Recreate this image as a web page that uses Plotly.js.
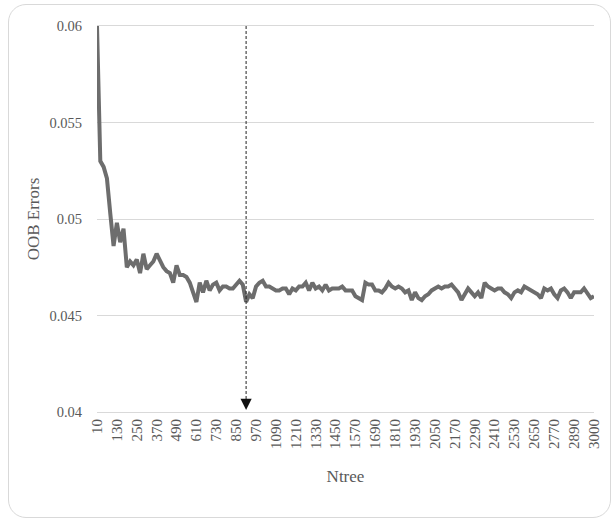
<!DOCTYPE html>
<html>
<head>
<meta charset="utf-8">
<script src="https://cdn.plot.ly/plotly-3.0.1.min.js"></script>
<style>
  html, body { margin: 0; padding: 0; background: #ffffff; }
  #wrap { position: relative; width: 611px; height: 520px; }
  #chart { position: absolute; left: 0; top: 0; width: 611px; height: 520px; }
  #frame { position: absolute; left: 8px; top: 4px; width: 603px; height: 514px; box-sizing: border-box;
           border: 1.5px solid #d9d9d9; border-radius: 18px; pointer-events: none; }
</style>
</head>
<body>
<div id="wrap">
  <div id="chart"></div>
  <div id="frame"></div>
</div>
<script>
// Number of trees (every 20 trees, 10 ... 2990, then 3000)
const ntree = [];
for (let i = 0; i < 150; i++) ntree.push(String(10 + 20 * i));
ntree.push("3000");

// OOB error values
const oobErrors = [
  0.0600, 0.0530, 0.0527, 0.0521, 0.0503, 0.0486, 0.0498, 0.0488, 0.0495, 0.0475,
  0.0478, 0.0476, 0.0479, 0.0472, 0.0482, 0.0474, 0.0476, 0.0478, 0.0482, 0.0478,
  0.0475, 0.0473, 0.0472, 0.0467, 0.0476, 0.0471, 0.0471, 0.0470, 0.0467, 0.0462,
  0.0457, 0.0467, 0.0462, 0.0468, 0.0463, 0.0466, 0.0467, 0.0463, 0.0465, 0.0465,
  0.0464, 0.0464, 0.0466, 0.0468, 0.0466, 0.0457, 0.0461, 0.0459, 0.0465, 0.0467,
  0.0468, 0.0465, 0.0465, 0.0464, 0.0463, 0.0463, 0.0464, 0.0464, 0.0461, 0.0464,
  0.0463, 0.0465, 0.0465, 0.0467, 0.0463, 0.0467, 0.0464, 0.0465, 0.0463, 0.0466,
  0.0463, 0.0464, 0.0464, 0.0464, 0.0465, 0.0463, 0.0463, 0.0463, 0.0460, 0.0459,
  0.0458, 0.0467, 0.0466, 0.0466, 0.0463, 0.0463, 0.0462, 0.0464, 0.0467, 0.0465,
  0.0464, 0.0465, 0.0464, 0.0462, 0.0463, 0.0458, 0.0462, 0.0459, 0.0458, 0.0460,
  0.0461, 0.0463, 0.0464, 0.0465, 0.0464, 0.0465, 0.0465, 0.0466, 0.0464, 0.0462,
  0.0458, 0.0461, 0.0464, 0.0462, 0.0460, 0.0462, 0.0459, 0.0467, 0.0465, 0.0464,
  0.0463, 0.0464, 0.0464, 0.0462, 0.0461, 0.0459, 0.0462, 0.0463, 0.0462, 0.0465,
  0.0464, 0.0463, 0.0462, 0.0461, 0.0459, 0.0464, 0.0463, 0.0464, 0.0461, 0.0459,
  0.0463, 0.0464, 0.0462, 0.0459, 0.0462, 0.0462, 0.0462, 0.0464, 0.0461, 0.0459,
  0.0460
];

// Tick labels every 6th category plus the last one
const tickLabels = ["10","130","250","370","490","610","730","850","970","1090","1210","1330","1450",
  "1570","1690","1810","1930","2050","2170","2290","2410","2530","2650","2770","2890","3000"];

const yTicks = [0.04, 0.045, 0.05, 0.055, 0.06];
const yTickText = ["0.04", "0.045", "0.05", "0.055", "0.06"];

// Selected number of trees (marked by dashed arrow)
const selectedNtree = "910";

const selIdx = ntree.indexOf(selectedNtree);
const font = "Liberation Serif";

const trace = {
  x: ntree,
  y: oobErrors,
  type: "scatter",
  mode: "lines",
  line: { color: "#6d6d6d", width: 4 },
  hoverinfo: "x+y"
};

const layout = {
  width: 611,
  height: 520,
  margin: { l: 96.5, r: 16.5, t: 26, b: 108 },
  paper_bgcolor: "rgba(0,0,0,0)",
  plot_bgcolor: "rgba(0,0,0,0)",
  showlegend: false,
  xaxis: {
    type: "category",
    range: [0, ntree.length - 1],
    tickmode: "array",
    tickvals: tickLabels,
    ticktext: tickLabels,
    tickangle: -90,
    ticks: "",
    showgrid: false,
    showline: true,
    mirror: true,
    linecolor: "#d9d9d9",
    linewidth: 1,
    zeroline: false,
    tickfont: { family: font, size: 15, color: "#595959" },
    title: { text: "Ntree", font: { family: font, size: 17, color: "#595959" }, standoff: 22 }
  },
  yaxis: {
    range: [0.04, 0.06],
    tickmode: "array",
    tickvals: yTicks,
    ticktext: yTickText,
    ticks: "",
    ticklabelstandoff: 14,
    showgrid: true,
    gridcolor: "#d9d9d9",
    gridwidth: 1,
    showline: false,
    zeroline: false,
    tickfont: { family: font, size: 14.5, color: "#595959" },
    title: { text: "OOB Errors", font: { family: font, size: 17, color: "#595959" }, standoff: 5 }
  },
  shapes: [
    {
      type: "line",
      xref: "x", yref: "y",
      x0: selIdx, x1: selIdx,
      y0: 0.06, y1: 0.0406,
      line: { color: "#222222", width: 1, dash: "3px,2px" }
    }
  ],
  annotations: [
    {
      xref: "x", yref: "y",
      x: selIdx, y: 0.0401,
      axref: "x", ayref: "y",
      ax: selIdx, ay: 0.0407,
      text: "",
      showarrow: true,
      arrowhead: 2,
      arrowsize: 1.6,
      arrowwidth: 1.4,
      arrowcolor: "#111111"
    }
  ]
};

Plotly.newPlot("chart", [trace], layout, { displayModeBar: false, staticPlot: true });
</script>
</body>
</html>
